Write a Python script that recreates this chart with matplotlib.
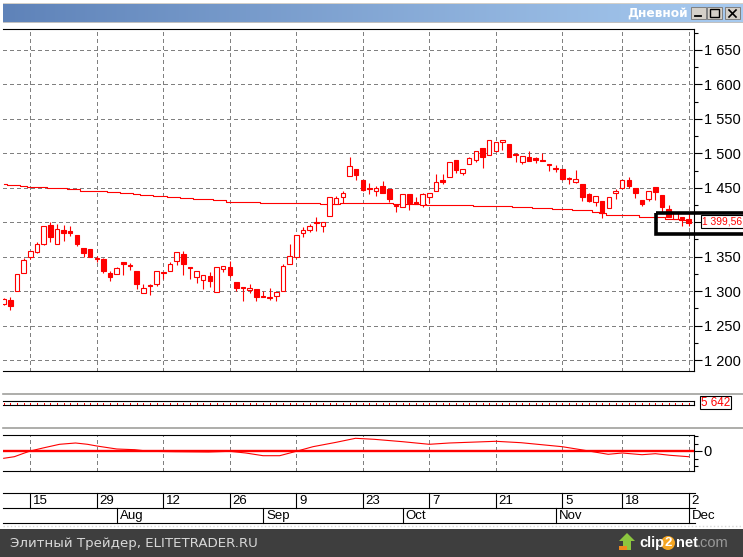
import matplotlib
matplotlib.use('Agg')
import matplotlib.pyplot as plt
import numpy as np
from matplotlib.patches import Rectangle, Polygon, Circle

plt.rcParams['font.family'] = ['Liberation Sans', 'DejaVu Sans']

# ohlc, bar by bar
opens = [1281,1287,1300,1327,1350,1357,1369,1396,1369,1388,1387,1381,1362,1361,1348,1346,1326,1325,1342,1338,
         1329,1297,1309,1310,1328,1329,1344,1354,1334,1321,1316,1322,1299,1332,1335,1313,1306,1301,1303,1293,
         1291,1293,1300,1339,1349,1385,1389,1400,1395,1409,1426,1437,1467,1477,1461,1449,1446,1453,1448,1425,
         1422,1441,1429,1425,1437,1445,1461,1465,1490,1472,1484,1491,1508,1498,1504,1516,1514,1499,1488,1494,
         1493,1491,1485,1478,1477,1464,1458,1455,1441,1430,1431,1420,1442,1449,1462,1449,1432,1434,1451,1439,
         1419,1405,1407,1404]
highs = [1290,1291,1325,1348,1358,1371,1395,1400,1397,1396,1394,1381,1362,1361,1351,1348,1329,1335,1342,1341,
         1329,1310,1310,1329,1328,1342,1357,1358,1335,1329,1323,1328,1335,1336,1343,1313,1306,1311,1303,1300,
         1304,1299,1339,1369,1381,1393,1398,1407,1400,1436,1438,1446,1495,1477,1461,1457,1452,1460,1448,1426,
         1441,1441,1437,1442,1443,1470,1470,1487,1490,1477,1494,1504,1508,1519,1517,1519,1514,1500,1496,1503,
         1494,1501,1485,1483,1477,1465,1476,1455,1442,1438,1431,1437,1448,1462,1466,1449,1432,1446,1451,1439,
         1425,1413,1407,1413]
lows = [1280,1273,1300,1326,1346,1356,1367,1372,1369,1373,1380,1365,1350,1349,1342,1326,1314,1325,1323,1330,
        1303,1297,1295,1307,1317,1329,1338,1324,1318,1312,1303,1306,1299,1328,1321,1300,1286,1297,1286,1291,
        1287,1286,1300,1339,1348,1379,1386,1387,1386,1409,1426,1428,1467,1461,1445,1441,1438,1443,1429,1415,
        1422,1418,1426,1422,1428,1445,1456,1465,1471,1468,1484,1488,1479,1498,1504,1505,1494,1488,1485,1489,
        1486,1489,1475,1473,1461,1456,1457,1431,1429,1424,1406,1420,1434,1449,1449,1435,1424,1431,1432,1415,
        1408,1405,1394,1395]
closes = [1289,1279,1325,1345,1358,1368,1395,1379,1390,1385,1384,1369,1355,1349,1347,1329,1321,1333,1339,1337,
          1310,1305,1308,1329,1326,1339,1357,1339,1333,1329,1323,1315,1335,1336,1324,1305,1304,1304,1292,1292,
          1290,1299,1336,1351,1381,1388,1394,1399,1400,1436,1435,1443,1481,1468,1447,1448,1450,1443,1434,1423,
          1441,1428,1426,1441,1443,1459,1459,1487,1476,1477,1493,1503,1494,1519,1517,1519,1495,1497,1496,1489,
          1491,1489,1483,1477,1463,1463,1463,1437,1431,1438,1413,1436,1446,1462,1453,1443,1427,1446,1444,1422,
          1408,1413,1405,1399.56]
ma = [1455,1454,1454,1452,1451,1451,1451,1449,1449,1449,1448,1448,1446,1446,1445,1445,1443.5,1443.5,1442,1442,
      1441,1439,1439,1438,1438,1436,1436,1435,1435,1433,1433,1433,1432,1432,1430,1430,1430,1429,1429,1428,
      1428,1428,1428,1428,1428,1428,1428,1428,1426,1426,1426,1428,1428,1428,1428,1428,1428,1428,1428,1426,
      1426,1426,1426,1426,1425,1425,1425,1425,1425,1425,1425,1423,1424,1424,1424,1424,1424,1422,1422,1422,
      1420,1420,1420,1419,1419,1419,1418,1418,1418,1415,1413,1411,1411,1410,1410,1410,1408,1408,1407,1407,
      1404,1404,1403,1403]
volume = [5642,5642,5642,5642,5642,5642,5642,5642,5642,5642,5642,5642,5642,
          5642,5642,5642,5642,5642,5642,5642,5642,5642,5642,5642,5642,5642,
          5642,5642,5642,5642,5642,5642,5642,5642,5642,5642,5642,5642,5642,
          5642,5642,5642,5642,5642,5642,5642,5642,5642,5642,5642,5642,5642,
          5642,5642,5642,5642,5642,5642,5642,5642,5642,5642,5642,5642,5642,
          5642,5642,5642,5642,5642,5642,5642,5642,5642,5642,5642,5642,5642,
          5642,5642,5642,5642,5642,5642,5642,5642,5642,5642,5642,5642,5642,
          5642,5642,5642,5642,5642,5642,5642,5642,5642,5642,5642,5642,5642]
osc_idx = [0,1.6,3,4,5.9,8.4,10.8,12.6,14,17,19.7,21.9,25.8,30.8,34,36.4,39,41.5,44,46.5,50,52.9,55.7,60,64,67,74,77.8,84,86.8,90.9,93,96,98,100.2,103]
osc_val = [-7.3,-5.7,-2.3,0,3,6.7,8,6.7,5,2,1.3,-0.3,-0.7,-1,-0.3,-2,-4.7,-4.7,-0.3,4.3,8.7,12.7,11.7,9.3,6.7,8,9.7,8.3,4.3,1.3,-3.3,-2,-3.7,-2.7,-4.3,-5.7]

day_idx = [4,14,24,34,44,54,64,74,84,93,103]
day_labels = ['15','29','12','26','9','23','7','21','5','18','2']
month_idx = [17,39,60,83,103]
month_labels = ['Aug','Sep','Oct','Nov','Dec']
price_ticks = [1200,1250,1300,1350,1400,1450,1500,1550,1600,1650]

RED = '#ff0000'
GRID = '#808080'
W, H = 743, 557
LEFT, RIGHT = 3, 694
THIN = 0.72
xlim = (4 + (LEFT - 30.3) / 6.65, 4 + (RIGHT - 30.3) / 6.65)


def panel(top, bottom, left=LEFT, right=RIGHT):
    # axes from pixel box
    ax = fig.add_axes([left / W, 1 - bottom / H, (right - left) / W, (bottom - top) / H])
    ax.set_xlim(xlim)
    for s in ax.spines.values():
        s.set_linewidth(0.8)
    ax.spines['left'].set_visible(False)
    ax.set_xticks([])
    ax.yaxis.tick_right()
    return ax


def vgrid(ax):
    ax.vlines(day_idx, *ax.get_ylim(), color=GRID, lw=THIN, linestyles=(0, (3, 3)), zorder=1, antialiased=False)


fig = plt.figure(figsize=(W / 100, H / 100), dpi=100, facecolor='white')

# window chrome
bg = fig.add_axes([0, 0, 1, 1], zorder=-1)
bg.set_xlim(0, W)
bg.set_ylim(H, 0)
bg.axis('off')
grad = np.linspace(0, 1, 256).reshape(1, -1)
cmap = matplotlib.colors.LinearSegmentedColormap.from_list('t', ['#5f83b9', '#a8cbf0'])
bg.imshow(grad, extent=(3, 743, 22, 4), aspect='auto', cmap=cmap)
bg.set_xlim(0, W)
bg.set_ylim(H, 0)
bg.add_patch(Rectangle((3, 2.5), 740, 1.5, color='#d4d0c8', lw=0))
bg.add_patch(Rectangle((3, 22), 740, 1, color='#c0c0c0', lw=0))
bg.text(688, 13, 'Дневной', color='white', fontsize=8.8, fontweight='bold', ha='right', va='center', family=['DejaVu Sans'])
for bx in [691, 707, 725]:
    bg.add_patch(Rectangle((bx, 7), 15, 12, fc='#d4d0c8', ec='#808080', lw=0.7))
bg.plot([695, 701], [16, 16], color='black', lw=1.3)
bg.add_patch(Rectangle((710, 9), 9, 8, fc='none', ec='black', lw=1))
bg.plot([729, 736], [10, 17], color='black', lw=1.2)
bg.plot([729, 736], [17, 10], color='black', lw=1.2)
bg.plot([3, 743], [394, 394], color='#a0a09c', lw=1.2)
bg.plot([3, 743], [428, 428], color='#a0a09c', lw=1.2)

# main price panel
ax = panel(29, 371)
ax.set_ylim(1200 - 11 / 0.6889, 1650 + 21 / 0.6889)
ax.hlines(price_ticks, *xlim, color=GRID, lw=THIN, linestyles=(0, (3, 3)), zorder=1, antialiased=False)
vgrid(ax)
idx = np.arange(len(opens))
ax.vlines(idx, lows, highs, color=RED, lw=0.8, zorder=3)
ax.plot(idx, ma, color=RED, lw=0.8, drawstyle='steps-mid', zorder=3)
for i, (o, c) in enumerate(zip(opens, closes)):
    up = c >= o
    h = max(abs(c - o), 1.5)
    ax.bar(i, h, bottom=min(o, c), width=0.68, facecolor='white' if up else RED,
           edgecolor=RED, linewidth=0.8, zorder=4)
ax.set_yticks(price_ticks)
# 1 400 sits under the last price box
ax.set_yticklabels(['' if p == 1400 else f'1 {p - 1000:03d}' for p in price_ticks], fontsize=10.5)
ax.set_yticks(np.arange(1200, 1676, 25), minor=True)
ax.tick_params(axis='y', which='major', length=6, width=0.8, pad=1)
ax.tick_params(axis='y', which='minor', length=3, width=0.8)

# volume strip
vol_ax = panel(401.3, 405.3)
vol_ax.set_ylim(0, 11000)
vol_ax.vlines(idx, 0, volume, color=RED, lw=THIN, antialiased=False)
vol_ax.set_yticks([])

# oscillator
osc = panel(435, 471)
osc.set_ylim(-20, 16)
vgrid(osc)
osc.axhline(0, color=RED, lw=1.7, zorder=3)
osc.plot(osc_idx, osc_val, color=RED, lw=0.8, zorder=3)
osc.set_yticks([0])
osc.set_yticklabels(['0'], fontsize=10.5)
osc.set_yticks([-15, -7.5, 7.5, 15], minor=True)
osc.tick_params(axis='y', which='major', length=6, width=0.8, pad=1)
osc.tick_params(axis='y', which='minor', length=3, width=0.8)

# date rows
top = fig.add_axes([0, 0, 1, 1], zorder=10)
top.set_xlim(0, W)
top.set_ylim(H, 0)
top.axis('off')
top.patch.set_alpha(0)


def to_px(i):
    return 30.3 + 6.65 * (i - 4)


for y in [493, 508, 523]:
    top.plot([3, 695], [y, y], color='black', lw=0.8)
for i, lab in zip(day_idx, day_labels):
    px = to_px(i)
    top.plot([px, px], [493, 508], color='black', lw=0.8)
    top.text(px + 3, 501, lab, fontsize=9.5, ha='left', va='center')
for i, lab in zip(month_idx, month_labels):
    px = to_px(i)
    top.plot([px, px], [508, 523], color='black', lw=0.8)
    top.text(px + 3, 516, lab, fontsize=9.5, ha='left', va='center')

# value boxes and the hand drawn frame
top.add_patch(Rectangle((700, 396), 31, 13, fc='white', ec='black', lw=0.8))
top.text(715.5, 402.5, '5 642', color=RED, fontsize=8.4, ha='center', va='center')
top.add_patch(Rectangle((701, 215), 60, 13, fc='white', ec='black', lw=0.8, clip_on=True))
top.text(702.5, 221.5, '1 399,56', color=RED, fontsize=7.4, ha='left', va='center', clip_on=True)
top.add_patch(Rectangle((655.5, 212.5), 100, 21.5, fc='none', ec='black', lw=2.6, clip_on=True))

# footer
top.add_patch(Rectangle((0, 529), W, 28, color='#3e3e3e', lw=0))
top.plot([3, W], [526, 526], color='#d8d8d8', lw=1, ls=':')
top.text(10, 543, 'Элитный Трейдер, ELITETRADER.RU', color='#d8d8d8', fontsize=9.6, ha='left', va='center', family=['DejaVu Sans'])
top.add_patch(Polygon([(619, 541), (627, 533), (635, 541), (631, 541), (631, 550), (623, 550), (623, 541)], color='#8cc63f', lw=0))
top.add_patch(Rectangle((619, 546), 8, 4, color='#f08a1d', lw=0))
top.text(639, 543, 'clip', color='white', fontsize=10.5, fontweight='bold', ha='left', va='center')
top.add_patch(Circle((668, 543), 7, color='#f5a623', lw=0))
top.text(668, 543, '2', color='white', fontsize=9.5, fontweight='bold', ha='center', va='center')
top.text(676, 543, 'net', color='white', fontsize=10.5, fontweight='bold', ha='left', va='center')
top.text(697, 543, '.com', color='#9a9a9a', fontsize=10.5, ha='left', va='center')

fig.savefig('out.png', dpi=100)
